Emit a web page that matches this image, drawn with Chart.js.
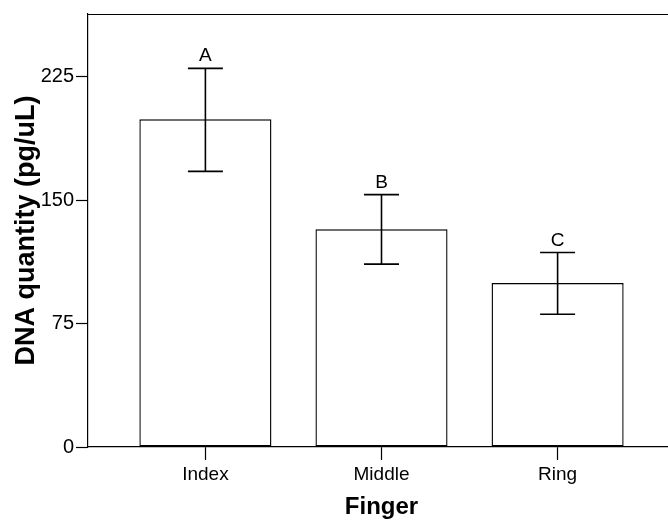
<!DOCTYPE html>
<html>
<head>
<meta charset="utf-8">
<script src="https://cdn.jsdelivr.net/npm/chart.js@4/dist/chart.umd.min.js"></script>
<style>
  html, body { margin: 0; padding: 0; background: #fff; overflow: hidden; }
  #wrap { width: 680px; height: 522px; }
</style>
</head>
<body>
<div id="wrap"><canvas id="c" width="680" height="522"></canvas></div>
<script>
// ---- data ----
const categories = ['Index', 'Middle', 'Ring'];
const means = [199.0, 132.2, 99.6];
const errHigh = [230.0, 153.3, 118.1];
const errLow = [167.4, 111.1, 80.6];
const letters = ['A', 'B', 'C'];
const yTicks = [0, 75, 150, 225];
const yMax = 263;

const FONT = "'Liberation Sans', Arial, sans-serif";

const errorBars = {
  id: 'errorBars',
  afterDatasetsDraw(chart) {
    const { ctx, scales: { x, y } } = chart;
    ctx.save();
    ctx.strokeStyle = '#000';
    ctx.lineWidth = 1.6;
    ctx.fillStyle = '#000';
    ctx.font = '19px ' + FONT;
    ctx.textAlign = 'center';
    ctx.textBaseline = 'alphabetic';
    categories.forEach((c, i) => {
      const px = x.getPixelForValue(i);
      const yh = y.getPixelForValue(errHigh[i]);
      const yl = y.getPixelForValue(errLow[i]);
      const hw = 17.5;
      ctx.beginPath();
      ctx.moveTo(px, yh); ctx.lineTo(px, yl);
      ctx.moveTo(px - hw, yh); ctx.lineTo(px + hw, yh);
      ctx.moveTo(px - hw, yl); ctx.lineTo(px + hw, yl);
      ctx.stroke();
      ctx.fillText(letters[i], px, yh - 7);
    });
    ctx.restore();
  }
};

const frame = {
  id: 'frame',
  afterDraw(chart) {
    const { ctx, chartArea: a } = chart;
    ctx.save();
    ctx.strokeStyle = '#000';
    ctx.lineWidth = 1.2;
    ctx.beginPath();
    ctx.moveTo(a.left, Math.round(a.top) + 0.5);
    ctx.lineTo(a.right, Math.round(a.top) + 0.5);
    ctx.lineTo(a.right, a.bottom);
    ctx.stroke();
    ctx.restore();
  }
};

new Chart(document.getElementById('c'), {
  type: 'bar',
  data: {
    datasets: [{
      data: categories.map((c, i) => ({ x: i, y: means[i] })),
      backgroundColor: '#fff',
      borderColor: '#000',
      borderWidth: 1.4,
      borderSkipped: false,
      categoryPercentage: 1,
      barPercentage: 0.75
    }]
  },
  options: {
    responsive: false,
    animation: false,
    layout: { padding: { left: 0, right: 5, top: 14, bottom: 0 } },
    plugins: { legend: { display: false }, tooltip: { enabled: false } },
    scales: {
      x: {
        type: 'linear',
        offset: false,
        min: -2 / 3,
        max: 2 + 2 / 3,
        afterBuildTicks: s => { s.ticks = categories.map((c, i) => ({ value: i })); },
        afterFit: s => { s.height = 75; },
        ticks: {
          callback: v => categories[v],
          color: '#000',
          font: { family: FONT, size: 19 },
          padding: 3,
          maxRotation: 0,
          autoSkip: false
        },
        grid: { offset: false, drawOnChartArea: false, drawTicks: true, tickLength: 13, color: '#000', tickWidth: 1.2 },
        border: { display: true, color: '#000', width: 1.2 },
        title: {
          display: true, text: 'Finger', color: '#000',
          font: { family: FONT, size: 24, weight: 'bold' },
          padding: { top: 0, bottom: 0 }
        }
      },
      y: {
        min: 0,
        max: yMax,
        afterBuildTicks: s => { s.ticks = yTicks.map(v => ({ value: v })); },
        afterFit: s => { s.width = 88; },
        ticks: {
          color: '#000',
          font: { family: FONT, size: 20 },
          padding: 2
        },
        grid: { drawOnChartArea: false, drawTicks: true, tickLength: 12, color: '#000', tickWidth: 1.2 },
        border: { display: true, color: '#000', width: 1.2 },
        title: {
          display: true, text: 'DNA quantity (pg/uL)', color: '#000',
          font: { family: FONT, size: 27, weight: 'bold' },
          padding: { top: 10, bottom: 0 }
        }
      }
    }
  },
  plugins: [errorBars, frame]
});
</script>
</body>
</html>
